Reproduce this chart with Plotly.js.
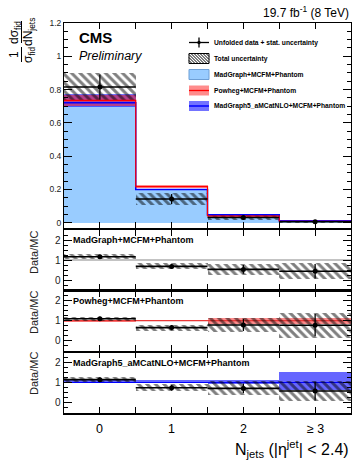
<!DOCTYPE html>
<html><head><meta charset="utf-8">
<script src="https://cdn.plot.ly/plotly-3.0.1.min.js"></script>
<style>html,body{margin:0;padding:0;background:#fff;}#plot{width:352px;height:462px;}</style>
</head><body><div id="plot"></div>
<script>
// ---------- data ----------
const categories = [0, 1, 2, 3];
const tickLabels = ['0', '1', '2', '\u2265 3'];

// main panel: normalised cross section
const dataVal  = [0.815, 0.142, 0.031, 0.006];
const dataStat = [0.075, 0.030, 0.012, 0.004];
const totLo    = [0.730, 0.106, 0.017, 0.001];
const totHi    = [0.898, 0.177, 0.046, 0.012];
const madgraph = [0.700, 0.203, 0.053, 0.013];
const powheg   = [0.735, 0.217, 0.040, 0.0085];
const powhegLo = [0.700, 0.208, 0.033, 0.007];
const powhegHi = [0.765, 0.226, 0.046, 0.010];
const amc      = [0.720, 0.200, 0.047, 0.011];
const amcLo    = [0.695, 0.195, 0.042, 0.007];
const amcHi    = [0.772, 0.205, 0.052, 0.016];

// ratio panel 1: data / MadGraph
const r1     = [1.16, 0.68, 0.53, 0.44];
const r1Stat = [0.10, 0.13, 0.22, 0.36];
const r1Lo   = [1.05, 0.53, 0.25, 0.05];
const r1Hi   = [1.28, 0.83, 0.82, 0.85];
// ratio panel 2: data / Powheg
const r2     = [1.10, 0.66, 0.79, 0.78];
const r2Stat = [0.10, 0.13, 0.30, 0.55];
const r2Lo   = [0.99, 0.51, 0.42, 0.15];
const r2Hi   = [1.21, 0.81, 1.14, 1.38];
const p2Lo   = [0.93, 0.97, 0.85, 0.85];
const p2Hi   = [1.04, 1.03, 1.12, 1.12];
// ratio panel 3: data / aMC@NLO
const r3     = [1.14, 0.74, 0.71, 0.58];
const r3Stat = [0.10, 0.14, 0.24, 0.46];
const r3Lo   = [1.03, 0.58, 0.37, 0.10];
const r3Hi   = [1.26, 0.92, 1.06, 1.06];
const a3Lo   = [0.96, 0.97, 0.95, 0.65];
const a3Hi   = [1.10, 1.10, 1.12, 1.53];

const panelNames = ['MadGraph+MCFM+Phantom', 'Powheg+MCFM+Phantom', 'MadGraph5_aMCatNLO+MCFM+Phantom'];
const legendNames = ['Unfolded data + stat. uncertainty', 'Total uncertainty', 'MadGraph+MCFM+Phantom', 'Powheg+MCFM+Phantom', 'MadGraph5_aMCatNLO+MCFM+Phantom'];

// ---------- styling / geometry ----------
const F = 'Liberation Sans, Arial, Helvetica, sans-serif';
const W = 352, H = 462, ML = 64, MR = 1, MT = 23, MB = 49;
const PW = W - ML - MR, PH = H - MT - MB;
const xp = px => (px - ML) / PW;
const yp = py => (H - MB - py) / PH;

const hatch = {shape: '\\', size: 6, solidity: 0.5, fgcolor: '#000', bgcolor: 'rgba(0,0,0,0)', fillmode: 'overlay'};
const diff = (hi, lo) => hi.map((v, i) => v - lo[i]);
const half = categories.map(() => 0.5);

function band(xa, ya, lo, hi, color) {
  return {type: 'bar', x: categories, base: lo, y: diff(hi, lo), width: 1, xaxis: xa, yaxis: ya,
    marker: {color: color, line: {width: 0}}, hoverinfo: 'skip', showlegend: false};
}
function hatchBand(xa, ya, lo, hi) {
  return {type: 'bar', x: categories, base: lo, y: diff(hi, lo), width: 1, xaxis: xa, yaxis: ya,
    marker: {color: 'rgba(0,0,0,0)', line: {width: 0}, pattern: hatch}, hoverinfo: 'skip', showlegend: false};
}
function step(xa, ya, vals, color, w) {
  const xs = [], ys = [];
  categories.forEach((c, i) => { xs.push(c - 0.5); ys.push(vals[i]); });
  xs.push(categories[categories.length - 1] + 0.5); ys.push(vals[vals.length - 1]);
  return {type: 'scatter', mode: 'lines', x: xs, y: ys, xaxis: xa, yaxis: ya,
    line: {color: color, width: w, shape: 'hv'}, hoverinfo: 'skip', showlegend: false};
}
function points(xa, ya, vals, err) {
  return {type: 'scatter', mode: 'markers', x: categories, y: vals, xaxis: xa, yaxis: ya,
    marker: {color: '#000', size: 5},
    error_y: {type: 'data', array: err, width: 0, thickness: 1.3, color: '#000'},
    error_x: {type: 'data', array: half, width: 0, thickness: 1.6, color: '#000'},
    hoverinfo: 'skip', showlegend: false};
}

const traces = [
  {type: 'bar', x: categories, y: madgraph, width: 1, xaxis: 'x', yaxis: 'y',
   marker: {color: '#99ccff', line: {width: 0}}, hoverinfo: 'skip', showlegend: false},
  band('x', 'y', amcLo, amcHi, 'rgba(0,0,255,0.55)'),
  band('x', 'y', powhegLo, powhegHi, 'rgba(255,0,0,0.45)'),
  step('x', 'y', amc, '#0000ff', 1.5),
  step('x', 'y', powheg, '#ff0000', 1.2),
  hatchBand('x', 'y', totLo, totHi),
  points('x', 'y', dataVal, dataStat),
  // ratio 1
  hatchBand('x2', 'y2', r1Lo, r1Hi),
  points('x2', 'y2', r1, r1Stat),
  // ratio 2
  band('x3', 'y3', p2Lo, p2Hi, 'rgba(255,0,0,0.45)'),
  hatchBand('x3', 'y3', r2Lo, r2Hi),
  points('x3', 'y3', r2, r2Stat),
  // ratio 3
  band('x4', 'y4', a3Lo, a3Hi, 'rgba(0,0,255,0.6)'),
  hatchBand('x4', 'y4', r3Lo, r3Hi),
  points('x4', 'y4', r3, r3Stat)
];

function xax(anchor, lw) {
  return {anchor: anchor, domain: [0, 1], range: [-0.5, 3.5], matches: anchor === 'y' ? undefined : 'x',
    tickmode: 'array', tickvals: categories, ticktext: tickLabels, showticklabels: false,
    ticks: 'inside', ticklen: 6, tickwidth: 1, tickcolor: '#000', mirror: 'ticks',
    showline: true, linecolor: '#000', linewidth: lw, showgrid: false, zeroline: false, fixedrange: true,
    minor: {tickmode: 'array', tickvals: [-0.5, 0.5, 1.5, 2.5, 3.5], ticks: 'inside', ticklen: 6, tickcolor: '#000', showgrid: false}};
}
function yax(anchor, domain, range, dtick, minorDtick, fs, lw) {
  return {anchor: anchor, domain: domain, range: range, tick0: 0, dtick: dtick,
    ticks: 'inside', ticklen: 8, tickwidth: 1, tickcolor: '#000', mirror: 'ticks',
    showline: true, linecolor: '#000', linewidth: lw, showgrid: false, zeroline: false, fixedrange: true,
    tickfont: {family: F, size: fs, color: '#222'},
    minor: {tick0: 0, dtick: minorDtick, ticks: 'inside', ticklen: 4, tickcolor: '#000', showgrid: false}};
}

const annotations = [];
const shapes = [];
function txt(x, y, text, size, opts) {
  annotations.push(Object.assign({xref: 'paper', yref: 'paper', x: xp(x), y: yp(y), text: text, showarrow: false,
    xanchor: 'left', yanchor: 'middle', font: {family: F, size: size, color: '#000'}}, opts || {}));
}
function rectPx(x0, y0, x1, y1, fill, lineColor, lw) {
  shapes.push({type: 'rect', xref: 'paper', yref: 'paper', x0: xp(x0), x1: xp(x1), y0: yp(y1), y1: yp(y0),
    fillcolor: fill, line: {color: lineColor, width: lw}, layer: 'above'});
}
function linePx(x0, y0, x1, y1, color, w) {
  shapes.push({type: 'line', xref: 'paper', yref: 'paper', x0: xp(x0), x1: xp(x1), y0: yp(y0), y1: yp(y1),
    line: {color: color, width: w}, layer: 'above'});
}

// x tick labels (drawn at the category positions of the bottom axis)
categories.forEach((c, i) => {
  annotations.push({xref: 'x4', yref: 'paper', x: c, y: yp(429), text: tickLabels[i], showarrow: false,
    xanchor: 'center', yanchor: 'middle', font: {family: F, size: 12.5, color: '#000'}});
});

// header texts
txt(351, 12, '19.7 fb<sup>-1</sup> (8 TeV)', 12, {xanchor: 'right'});
txt(77, 38, '<b>CMS</b>', 15);
txt(77, 56, '<i>Preliminary</i>', 12.5);

// y-axis title of main panel (two fractions)
txt(15, 32, 'd\u03c3<sub>fid</sub>', 12, {xanchor: 'center', textangle: -90});
txt(29, 32, 'dN<sub>jets</sub>', 12, {xanchor: 'center', textangle: -90});
linePx(21.5, 21, 21.5, 43, '#000', 1);
txt(14, 55, '1', 12, {xanchor: 'center', textangle: -90});
txt(29, 55, '\u03c3<sub>fid</sub>', 12, {xanchor: 'center', textangle: -90});
linePx(21.5, 47, 21.5, 62, '#000', 1);

// ratio panel titles
[253, 313, 374].forEach(y => {
  txt(34, y, 'Data/MC', 11, {xanchor: 'center', textangle: -90, font: {family: F, size: 11, color: '#222'}});
});
// ratio panel labels
[[240, 0], [301, 1], [362.5, 2]].forEach(p => {
  txt(71, p[0], '<b>' + panelNames[p[1]] + '</b>', 9);
});

// x axis title
txt(351, 449, 'N<sub>jets</sub> (|\u03b7<sup>jet</sup>| &lt; 2.4)', 16, {xanchor: 'right'});

// legend
const rowY = [42.5, 58.5, 74.5, 90.5, 106];
const sx0 = 189, sx1 = 209;
legendNames.forEach((n, i) => txt(211.5, rowY[i], '<b>' + n + '</b>', 6.7));
// data symbol
linePx(sx0, rowY[0], sx1, rowY[0], '#000', 1.3);
linePx(199, rowY[0] - 5, 199, rowY[0] + 5, '#000', 1.3);
shapes.push({type: 'circle', xref: 'paper', yref: 'paper', x0: xp(197.3), x1: xp(200.7), y0: yp(rowY[0] + 1.7), y1: yp(rowY[0] - 1.7), fillcolor: '#000', line: {width: 0}, layer: 'above'});
// total uncertainty: hatched box
(function () {
  const y0 = rowY[1] - 5, y1 = rowY[1] + 5;
  for (let c = sx0 - y1; c <= sx1 - y0; c += 3) {
    let ya = y0, yb = y1;
    let xa = ya + c, xb = yb + c;
    if (xa < sx0) { ya += sx0 - xa; xa = sx0; }
    if (xb > sx1) { yb -= xb - sx1; xb = sx1; }
    if (xb > xa) linePx(xa, ya, xb, yb, '#000', 1);
  }
  rectPx(sx0, y0, sx1, y1, 'rgba(0,0,0,0)', '#000', 1);
})();
rectPx(sx0, rowY[2] - 5, sx1, rowY[2] + 5, '#99ccff', '#6d9fd6', 1);
rectPx(sx0, rowY[3] - 5, sx1, rowY[3] + 5, 'rgba(255,0,0,0.45)', 'rgba(255,0,0,0)', 0);
linePx(sx0, rowY[3], sx1, rowY[3], '#ff0000', 1.3);
rectPx(sx0, rowY[4] - 5, sx1, rowY[4] + 5, 'rgba(0,0,255,0.55)', 'rgba(0,0,255,0)', 0);
linePx(sx0, rowY[4], sx1, rowY[4], '#0000ff', 1.5);

// reference lines at 1 in ratio panels
[['x2', 'y2', '#888'], ['x3', 'y3', '#d03030'], ['x4', 'y4', '#0000ff']].forEach(r => {
  shapes.push({type: 'line', xref: r[0] + ' domain', yref: r[1], x0: 0, x1: 1, y0: 1, y1: 1,
    line: {color: r[2], width: 1.2}, layer: 'below'});
});

const layout = {
  width: W, height: H, margin: {l: ML, r: MR, t: MT, b: MB, pad: 0},
  paper_bgcolor: '#fff', plot_bgcolor: '#fff', showlegend: false,
  barmode: 'overlay', bargap: 0,
  font: {family: F, color: '#000'},
  xaxis: xax('y', 1),
  xaxis2: xax('y2', 1.5),
  xaxis3: xax('y3', 1.5),
  xaxis4: xax('y4', 1.5),
  yaxis: yax('x', [yp(228), 1], [-0.032, 1.2], 0.2, 0.05, 8.5, 1),
  yaxis2: yax('x2', [yp(290), yp(230)], [-0.5, 2.5], 1, 0.25, 10, 1.5),
  yaxis3: yax('x3', [yp(351), yp(290.5)], [-0.5, 2.5], 1, 0.25, 10, 1.5),
  yaxis4: yax('x4', [0, yp(352)], [-0.5, 2.5], 1, 0.25, 10, 1.5),
  annotations: annotations, shapes: shapes
};

Plotly.newPlot('plot', traces, layout, {staticPlot: true, displayModeBar: false});
</script></body></html>
